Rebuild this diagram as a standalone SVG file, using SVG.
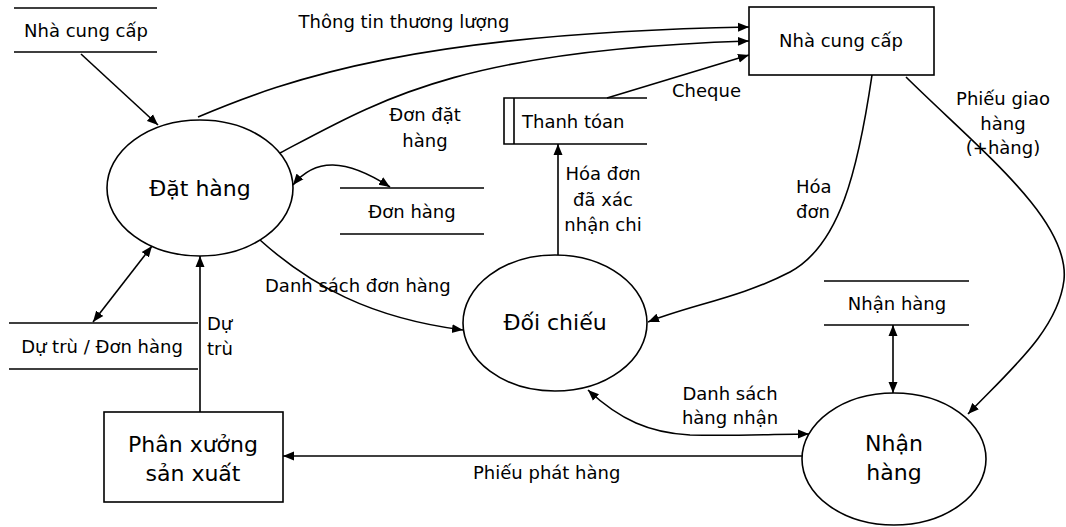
<svg xmlns="http://www.w3.org/2000/svg" width="1066" height="527" viewBox="0 0 1066 527">
<style>
.ln{fill:none;stroke:#000;stroke-width:1.6}
.sh{fill:#fff;stroke:#000;stroke-width:1.6}
.t{font-family:"DejaVu Sans","Liberation Sans",sans-serif;font-size:18px;fill:#000}
.tb{font-family:"DejaVu Sans","Liberation Sans",sans-serif;font-size:22px;fill:#000}
.m{text-anchor:middle}
</style>
<defs>
<marker id="ah" markerUnits="userSpaceOnUse" markerWidth="12" markerHeight="10" refX="11" refY="5" orient="auto-start-reverse">
<path d="M0,0.5 L11,5 L0,9.5 z" fill="#000"/>
</marker>
</defs>
<rect width="1066" height="527" fill="#fff"/>

<g id="connectors">
<path class="ln" d="M81,54 L158,125" marker-end="url(#ah)"/>
<path class="ln" d="M198,117 C290,78 420,33 749,27" marker-end="url(#ah)"/>
<path class="ln" d="M280,153 C380,100 460,50 749,41" marker-end="url(#ah)"/>
<path class="ln" d="M607,98 L749,55" marker-end="url(#ah)"/>
<path class="ln" d="M293,185 C315,158 345,158 390,187" marker-start="url(#ah)" marker-end="url(#ah)"/>
<path class="ln" d="M558,255 L558,144" marker-end="url(#ah)"/>
<path class="ln" d="M260,240 C310,285 370,318 463,330" marker-end="url(#ah)"/>
<path class="ln" d="M872,75 C858,170 840,245 790,272 C740,298 690,305 648,322" marker-end="url(#ah)"/>
<path class="ln" d="M906,77 C980,150 1070,220 1064,280 C1058,330 1010,370 968,414" marker-end="url(#ah)"/>
<path class="ln" d="M893,325 L893,393" marker-start="url(#ah)" marker-end="url(#ah)"/>
<path class="ln" d="M588,390 C620,420 650,433 690,435 C740,436 780,434 809,434" marker-start="url(#ah)" marker-end="url(#ah)"/>
<path class="ln" d="M802,456 L283,456" marker-end="url(#ah)"/>
<path class="ln" d="M200,412 L200,256" marker-end="url(#ah)"/>
<path class="ln" d="M93,322 L152,246" marker-start="url(#ah)" marker-end="url(#ah)"/>
</g>

<g id="store-ncc">
<path class="ln" d="M14,8 H157 M14,52 H157"/>
<text class="t m" x="86" y="37">Nhà cung cấp</text>
</g>

<g id="ext-ncc">
<rect class="sh" x="749" y="7" width="185" height="68"/>
<text class="t m" x="841" y="47">Nhà cung cấp</text>
</g>

<g id="proc-dathang">
<ellipse class="sh" cx="200" cy="188" rx="93" ry="68"/>
<text class="tb m" x="200" y="196">Đặt hàng</text>
</g>

<g id="store-thanhtoan">
<path class="ln" d="M647,98 H504 V144 H647 M514,98 V144"/>
<text class="t" x="522" y="128">Thanh tóan</text>
</g>

<g id="store-donhang">
<path class="ln" d="M340,188 H484 M340,234 H484"/>
<text class="t m" x="412" y="218">Đơn hàng</text>
</g>

<g id="proc-doichieu">
<ellipse class="sh" cx="555" cy="323" rx="92" ry="68"/>
<text class="tb m" x="555" y="330">Đối chiếu</text>
</g>

<g id="store-nhanhang">
<path class="ln" d="M824,281 H969 M824,325 H969"/>
<text class="t m" x="897" y="310">Nhận hàng</text>
</g>

<g id="proc-nhanhang">
<ellipse class="sh" cx="894" cy="459" rx="92" ry="66"/>
<text class="tb m" x="894" y="451">Nhận</text>
<text class="tb m" x="894" y="480">hàng</text>
</g>

<g id="store-dutru">
<path class="ln" d="M9,323 H198 M9,369 H198"/>
<text class="t m" x="102" y="353">Dự trù / Đơn hàng</text>
</g>

<g id="ext-phanxuong">
<rect class="sh" x="104" y="412" width="179" height="90"/>
<text class="tb m" x="193" y="452">Phân xưởng</text>
<text class="tb m" x="193" y="481">sản xuất</text>
</g>

<g id="labels">
<text class="t m" x="404" y="28">Thông tin thương lượng</text>
<text class="t m" x="425" y="121">Đơn đặt</text>
<text class="t m" x="425" y="147">hàng</text>
<text class="t" x="672" y="97">Cheque</text>
<text class="t m" x="603" y="180">Hóa đơn</text>
<text class="t m" x="603" y="206">đã xác</text>
<text class="t m" x="603" y="231">nhận chi</text>
<text class="t" x="265" y="292">Danh sách đơn hàng</text>
<text class="t" x="207" y="330">Dự</text>
<text class="t" x="207" y="355">trù</text>
<text class="t" x="796" y="193">Hóa</text>
<text class="t" x="796" y="218">đơn</text>
<text class="t m" x="1003" y="105">Phiếu giao</text>
<text class="t m" x="1003" y="130">hàng</text>
<text class="t m" x="1003" y="154">(+hàng)</text>
<text class="t m" x="730" y="400">Danh sách</text>
<text class="t m" x="730" y="424">hàng nhận</text>
<text class="t" x="473" y="479">Phiếu phát hàng</text>
</g>
</svg>
